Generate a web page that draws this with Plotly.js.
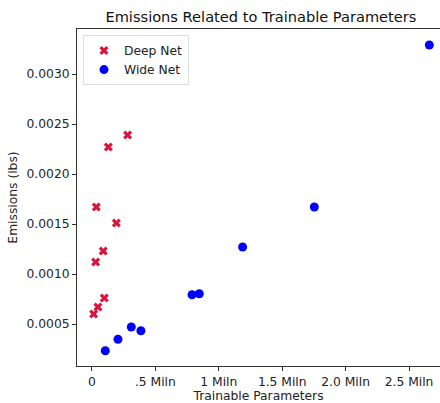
<!DOCTYPE html>
<html>
<head>
<meta charset="utf-8">
<script src="https://cdn.plot.ly/plotly-3.0.1.min.js"></script>
<style>html,body{margin:0;padding:0;background:#fff;}#chart{width:440px;height:403px;}</style>
</head>
<body>
<div id="chart"></div>
<script>
const deepParams = [281000, 129000, 34000, 192000, 89000, 29000, 97000, 47000, 13000];
const deepEmissions = [0.00239, 0.00227, 0.00167, 0.00151, 0.00123, 0.00112, 0.00076, 0.00067, 0.00060];
const wideParams = [105000, 205000, 310000, 386000, 789000, 846000, 1188000, 1753000, 2660000];
const wideEmissions = [0.000233, 0.000347, 0.00047, 0.000433, 0.000793, 0.000803, 0.00127, 0.00167, 0.00329];
const xTickVals = [0, 500000, 1000000, 1500000, 2000000, 2500000];
const xTickText = ['0', '.5 Miln', '1 Miln', '1.5 Miln', '2.0 Miln', '2.5 Miln'];
const yTickVals = [0.0005, 0.0010, 0.0015, 0.0020, 0.0025, 0.0030];

const font = {family: 'DejaVu Sans, sans-serif', size: 12.3, color: '#222'};
const traces = [
  {x: deepParams, y: deepEmissions, name: 'Deep Net', mode: 'markers', type: 'scatter',
   marker: {symbol: 'x', size: 8, color: '#dc143c'}},
  {x: wideParams, y: wideEmissions, name: 'Wide Net', mode: 'markers', type: 'scatter',
   marker: {symbol: 'circle', size: 9, color: '#0000ff'}}
];
const layout = {
  width: 440, height: 403,
  margin: {l: 77, r: 0, t: 29, b: 37},
  paper_bgcolor: '#fff', plot_bgcolor: '#fff',
  font: font,
  showlegend: true,
  title: {text: 'Emissions Related to Trainable Parameters', font: {family: 'DejaVu Sans, sans-serif', size: 14.6, color: '#111'},
          x: 0.593, xanchor: 'center', y: 0.958, yanchor: 'middle'},
  xaxis: {range: [-118000, 2744000], tickvals: xTickVals, ticktext: xTickText,
          showgrid: false, zeroline: false, showline: true, linecolor: '#333', linewidth: 1,
          mirror: true, ticks: 'outside', ticklen: 4, tickcolor: '#333',
          title: {text: 'Trainable Parameters', font: font, standoff: 3}},
  yaxis: {range: [0.00008, 0.00345], tickvals: yTickVals, tickformat: '.4f',
          showgrid: false, zeroline: false, showline: true, linecolor: '#333', linewidth: 1,
          ticks: 'outside', ticklen: 4, tickcolor: '#333',
          title: {text: 'Emissions (lbs)', font: font, standoff: 6}},
  legend: {x: 0.0165, y: 0.982, xanchor: 'left', yanchor: 'top', bgcolor: 'rgba(255,255,255,0.8)',
           bordercolor: '#ddd', borderwidth: 1, font: font, tracegroupgap: 0, itemwidth: 30}
};
Plotly.newPlot('chart', traces, layout, {displayModeBar: false, staticPlot: true});
</script>
</body>
</html>
